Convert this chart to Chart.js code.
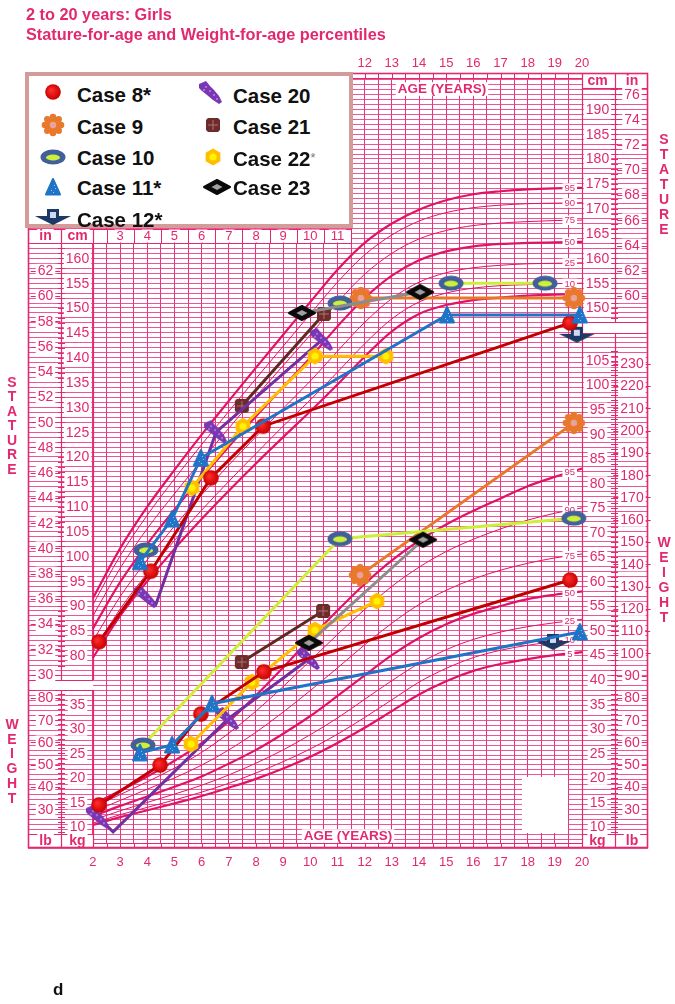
<!DOCTYPE html>
<html lang="en">
<head>
<meta charset="UTF-8">
<meta name="viewport" content="width=device-width, initial-scale=1.0">
<title>2 to 20 years: Girls - Stature-for-age and Weight-for-age percentiles</title>
<script src="https://cdn.jsdelivr.net/npm/chart.js"></script>
<style>
    body { margin: 0; background: #fff; font-family: Arial, "Liberation Sans", Helvetica, sans-serif; }
    .page { position: relative; width: 675px; height: 1004px; overflow: hidden; }
    #growthChart { position: absolute; left: 0; top: 0; }
    .title { position: absolute; left: 26px; color: #e2286f; font-weight: bold; font-size: 16.3px; line-height: 19px; white-space: nowrap; }
    .legend { position: absolute; left: 25px; top: 72px; width: 328px; height: 156px; box-sizing: border-box; border: 4px solid #d49b9b; background: #fff; }
    .legend .item { position: absolute; font-weight: bold; font-size: 20.5px; line-height: 20px; color: #111; white-space: nowrap; }
    .legend .item small { font-size: 13px; color: #777; font-weight: normal; vertical-align: 4px; }
    .legend canvas { position: absolute; }
    .tag { position: absolute; left: 53px; top: 980px; font-weight: bold; font-size: 17px; color: #111; }
</style>
</head>
<body>
<div class="page">
    <canvas id="growthChart" width="675" height="1004"></canvas>
    <div class="title" style="top:5px">2 to 20 years: Girls</div>
    <div class="title" style="top:25px">Stature-for-age and Weight-for-age percentiles</div>
    <div class="legend" id="legend"></div>
    <div class="tag">d</div>
</div>

<script>
    // percentile curves (CDC girls), one value per year of age
    const curveAges = [2, 3, 4, 5, 6, 7, 8, 9, 10, 11, 12, 13, 14, 15, 16, 17, 18, 19, 20];
    const statureP5  = [79.6, 88.0, 95.0, 101.5, 107.5, 113.2, 118.7, 124.0, 129.2, 134.6, 140.2, 145.3, 148.8, 150.6, 151.6, 152.1, 152.5, 152.7, 152.8];
    const statureP10 = [80.8, 89.4, 96.6, 103.2, 109.3, 115.1, 120.7, 126.2, 131.5, 137.1, 142.8, 147.8, 151.2, 153.0, 154.0, 154.5, 154.7, 154.9, 155.0];
    const statureP25 = [83.0, 91.9, 99.3, 106.1, 112.4, 118.4, 124.1, 129.8, 135.3, 141.3, 147.1, 151.9, 155.2, 157.1, 158.1, 158.6, 158.9, 159.0, 159.1];
    const statureP50 = [85.5, 94.8, 102.5, 109.4, 115.9, 122.1, 128.2, 134.1, 140.0, 146.3, 152.0, 156.5, 159.6, 161.4, 162.4, 162.9, 163.1, 163.2, 163.3];
    const statureP75 = [88.0, 97.6, 105.6, 112.6, 119.3, 125.8, 132.2, 138.4, 144.6, 151.1, 156.8, 161.0, 163.9, 165.6, 166.6, 167.1, 167.4, 167.6, 167.7];
    const statureP90 = [90.3, 100.1, 108.3, 115.6, 122.5, 129.2, 135.8, 142.3, 148.8, 155.2, 160.7, 164.7, 167.5, 169.2, 170.2, 170.7, 171.0, 171.1, 171.2];
    const statureP95 = [91.6, 101.6, 110.0, 117.4, 124.5, 131.3, 138.0, 144.6, 151.2, 157.7, 163.1, 167.0, 169.8, 171.7, 172.9, 173.5, 173.9, 174.1, 174.2];
    const weightP5  = [10.4, 12.0, 13.4, 14.8, 16.3, 18.0, 19.8, 21.9, 24.3, 27.1, 30.2, 33.6, 37.0, 39.7, 41.8, 43.2, 44.2, 45.0, 45.6];
    const weightP10 = [10.8, 12.5, 14.0, 15.5, 17.1, 18.9, 21.0, 23.3, 25.9, 28.9, 32.3, 35.9, 39.5, 42.3, 44.5, 46.0, 47.0, 47.8, 48.4];
    const weightP25 = [11.4, 13.3, 15.0, 16.7, 18.5, 20.6, 23.0, 25.7, 28.8, 32.2, 36.0, 39.8, 43.3, 46.1, 48.2, 49.7, 50.8, 51.6, 52.3];
    const weightP50 = [12.2, 14.3, 16.2, 18.2, 20.3, 22.9, 25.7, 29.0, 32.6, 36.7, 40.9, 45.0, 48.5, 51.3, 53.4, 55.0, 56.4, 57.3, 58.0];
    const weightP75 = [13.1, 15.4, 17.7, 20.0, 22.6, 25.7, 29.3, 33.4, 37.8, 42.4, 47.1, 51.5, 55.3, 58.2, 60.5, 62.3, 63.7, 64.8, 65.6];
    const weightP90 = [14.0, 16.6, 19.2, 22.0, 25.2, 29.1, 33.6, 38.6, 43.9, 49.2, 54.3, 59.0, 62.9, 66.1, 68.6, 70.7, 72.5, 73.9, 75.0];
    const weightP95 = [14.6, 17.4, 20.3, 23.5, 27.1, 31.5, 36.8, 42.5, 48.4, 54.1, 59.5, 64.3, 68.3, 71.6, 74.4, 76.9, 79.4, 81.3, 83.0];

    // measurements per case: [age in years, cm or kg]; null breaks the line
    const case8Stature  = [[2.22, 82.8], [4.13, 97.0], [6.34, 115.8], [8.26, 126.2], [19.56, 147.0]];
    const case8Weight   = [[2.22, 14.5], [4.47, 22.6], [5.97, 33.0], [8.29, 41.6], [19.56, 60.3]];
    const case9Stature  = [[11.86, 152.0], [19.70, 152.0]];
    const case9Weight   = [[11.83, 61.3], [19.70, 92.3]];
    const case10Stature = [[3.95, 101.3], [7.5, null], [11.09, 151.0], [13.1, null], [15.18, 155.0], [18.64, 155.0]];
    const case10Weight  = [[3.84, 26.7], [11.09, 68.7], [19.70, 72.9]];
    const case11Stature = [[3.73, 98.9], [4.91, 107.5], [5.97, 119.8], [15.03, 148.6], [19.92, 148.6]];
    const case11Weight  = [[3.73, 25.1], [4.91, 26.7], [6.38, 35.1], [19.92, 49.7]];
    const case12Stature = [[19.81, 144.6]];
    const case12Weight  = [[18.93, 47.7]];
    const case20Stature = [[3.95, 91.8], [4.32, 90.4], [6.53, 125.0], [10.43, 143.6]];
    const case20Weight  = [[2.18, 12.0], [2.74, 9.0], [6.97, 32.0], [9.95, 44.2]];
    const case21Stature = [[7.48, 130.3], [10.50, 148.8]];
    const case21Weight  = [[7.48, 43.6], [10.47, 54.0]];
    const case22Stature = [[5.64, 113.8], [7.52, 126.2], [10.17, 140.3], [12.78, 140.3]];
    const case22Weight  = [[5.61, 26.9], [7.85, 39.5], [10.17, 50.1], [12.45, 56.0]];
    const case23Stature = [[9.69, 149.0], [14.04, 153.2]];
    const case23Weight  = [[9.95, 47.5], [14.15, 68.5]];

    // tick labels
    const bottomAgeLabels = [2, 3, 4, 5, 6, 7, 8, 9, 10, 11, 12, 13, 14, 15, 16, 17, 18, 19, 20];
    const topAgeLabels = [12, 13, 14, 15, 16, 17, 18, 19, 20];
    const headerAgeLabels = [3, 4, 5, 6, 7, 8, 9, 10, 11];
    const leftInchLabels = [30, 32, 34, 36, 38, 40, 42, 44, 46, 48, 50, 52, 54, 56, 58, 60, 62];
    const leftCmLabels = [80, 85, 90, 95, 100, 105, 110, 115, 120, 125, 130, 135, 140, 145, 150, 155, 160];
    const leftLbLabels = [30, 40, 50, 60, 70, 80];
    const leftKgLabels = [10, 15, 20, 25, 30, 35];
    const rightCmLabels = [150, 155, 160, 165, 170, 175, 180, 185, 190];
    const rightInchLabels = [60, 62, 64, 66, 68, 70, 72, 74, 76];
    const rightKgLabels = [10, 15, 20, 25, 30, 35, 40, 45, 50, 55, 60, 65, 70, 75, 80, 85, 90, 95, 100, 105];
    const rightLbLabels = [30, 40, 50, 60, 70, 80, 90, 100, 110, 120, 130, 140, 150, 160, 170, 180, 190, 200, 210, 220, 230];
    const percentileNames = ['95', '90', '75', '50', '25', '10', '5'];

    const TEXT_PINK = '#e2286f';
    const CURVE_PINK = '#de1468';
    const FONT = 'Arial, "Liberation Sans", sans-serif';

    // marker pictures
    function makeIcon(w, h, draw) {
        const c = document.createElement('canvas');
        c.width = w; c.height = h;
        const g = c.getContext('2d');
        g.translate(w / 2, h / 2);
        draw(g);
        return c;
    }
    function poly(g, pts) {
        g.beginPath();
        pts.forEach((p, i) => i ? g.lineTo(p[0], p[1]) : g.moveTo(p[0], p[1]));
        g.closePath();
    }
    const icons = {
        case8: () => makeIcon(18, 18, g => {
            const gr = g.createRadialGradient(-2, -2, 1, 0, 0, 8);
            gr.addColorStop(0, '#ff2a2a'); gr.addColorStop(1, '#c40000');
            g.fillStyle = gr; g.beginPath(); g.arc(0, 0, 7.8, 0, Math.PI * 2); g.fill();
        }),
        case9: () => makeIcon(26, 26, g => {
            g.fillStyle = '#e8792c';
            for (let i = 0; i < 8; i++) {
                const a = i * Math.PI / 4;
                g.beginPath(); g.arc(Math.cos(a) * 8, Math.sin(a) * 8, 3.3, 0, Math.PI * 2); g.fill();
            }
            g.beginPath(); g.arc(0, 0, 8, 0, Math.PI * 2); g.fill();
            g.fillStyle = '#eba19c'; g.beginPath(); g.arc(0, 0, 3.2, 0, Math.PI * 2); g.fill();
        }),
        case10: () => makeIcon(28, 18, g => {
            g.fillStyle = '#41609a'; g.beginPath(); g.ellipse(0, 0, 12.5, 7.5, 0, 0, Math.PI * 2); g.fill();
            g.fillStyle = '#cdf03a'; g.beginPath(); g.ellipse(0, 0.5, 7, 3, 0, 0, Math.PI * 2); g.fill();
        }),
        case11: () => makeIcon(18, 20, g => {
            g.fillStyle = '#1f74c6'; g.strokeStyle = '#1f74c6'; g.lineWidth = 2; g.lineJoin = 'round';
            poly(g, [[0, -8], [7, 7.5], [-7, 7.5]]); g.fill(); g.stroke();
            g.fillStyle = '#9cc8f0';
            [[-2, 3], [2, 1], [0, 5], [1, -2]].forEach(p => g.fillRect(p[0], p[1], 1, 1));
        }),
        case12: () => makeIcon(38, 18, g => {
            g.fillStyle = '#1d3a66';
            poly(g, [[-18, -1], [-6, -1], [-6, -8], [6, -8], [6, -1], [18, -1], [0, 8]]); g.fill();
            g.fillStyle = '#cfdaf0'; g.fillRect(-3, -5, 6, 6);
        }),
        case20: () => makeIcon(28, 28, g => {
            g.fillStyle = '#7b36b4';
            poly(g, [[-12, -9], [-5, -12], [-1, -7], [3, -3], [8, 3], [11, 9], [8, 11], [2, 7], [-4, 2], [-9, -2], [-12, -5]]);
            g.fill();
            g.fillStyle = '#a872d6';
            [[-6, -7], [-2, -3], [2, 1], [5, 5], [-8, -4]].forEach(p => g.fillRect(p[0], p[1], 2, 2));
        }),
        case21: () => makeIcon(18, 18, g => {
            g.fillStyle = '#6d2b2b';
            poly(g, [[-7, -5], [-5, -7], [5, -7], [7, -5], [7, 5], [5, 7], [-5, 7], [-7, 5]]); g.fill();
            g.strokeStyle = '#b07474'; g.lineWidth = 1;
            g.beginPath(); g.moveTo(0, -5); g.lineTo(0, 5); g.moveTo(-5, 0); g.lineTo(5, 0); g.stroke();
        }),
        case22: () => makeIcon(20, 20, g => {
            g.fillStyle = '#ffbf00';
            const pts = [];
            for (let i = 0; i < 6; i++) { const a = Math.PI / 6 + i * Math.PI / 3; pts.push([Math.cos(a) * 8.5, Math.sin(a) * 8.5]); }
            poly(g, pts); g.fill();
            g.fillStyle = '#fff200'; g.beginPath(); g.arc(0, 0, 3.6, 0, Math.PI * 2); g.fill();
        }),
        case23: () => makeIcon(30, 18, g => {
            g.fillStyle = '#0a0a0a'; g.strokeStyle = '#0a0a0a'; g.lineWidth = 2; g.lineJoin = 'round';
            poly(g, [[-13, 0], [0, -7], [13, 0], [0, 7]]); g.fill(); g.stroke();
            g.fillStyle = '#a0a0a0';
            poly(g, [[-5.5, 0], [0, -3], [5.5, 0], [0, 3]]); g.fill();
        })
    };

    // legend
    const legendKeys = ['case8', 'case9', 'case10', 'case11', 'case12', 'case20', 'case21', 'case22', 'case23'];
    const legendLabels = ['Case 8*', 'Case 9', 'Case 10', 'Case 11*', 'Case 12*', 'Case 20', 'Case 21', 'Case 22<small>*</small>', 'Case 23'];
    const legendIconPos = [[24, 16], [24, 49], [24, 81], [24, 111], [24, 141], [182, 17], [184, 49], [184, 81], [188, 111]];
    const legendTextPos = [[48, 19], [48, 51], [48, 82], [48, 112], [48, 144], [204, 20], [204, 51], [204, 82], [204, 112]];
    const legendEl = document.getElementById('legend');
    legendKeys.forEach((key, i) => {
        const ic = icons[key]();
        ic.style.left = (legendIconPos[i][0] - ic.width / 2) + 'px';
        ic.style.top = (legendIconPos[i][1] - ic.height / 2) + 'px';
        legendEl.appendChild(ic);
        const t = document.createElement('div');
        t.className = 'item';
        t.innerHTML = legendLabels[i];
        t.style.left = legendTextPos[i][0] + 'px';
        t.style.top = (legendTextPos[i][1] - 10) + 'px';
        legendEl.appendChild(t);
    });

    // datasets
    function curve(values, axis, thick) {
        return {
            data: curveAges.map((a, i) => ({ x: a, y: values[i] })),
            yAxisID: axis,
            borderColor: CURVE_PINK,
            borderWidth: thick ? 2.2 : 1,
            pointRadius: 0,
            cubicInterpolationMode: 'monotone',
            order: 10
        };
    }
    function series(points, axis, color, key, extra) {
        return Object.assign({
            data: points.map(p => ({ x: p[0], y: p[1] })),
            yAxisID: axis,
            borderColor: color,
            backgroundColor: color,
            borderWidth: 3,
            pointStyle: icons[key](),
            pointRadius: 7,
            spanGaps: false,
            tension: 0,
            order: 1
        }, extra || {});
    }
    const tailHidden = { pointRadius: c => c.dataIndex === 1 ? 0 : 7 };

    const datasets = [
        curve(statureP95, 'yS', true), curve(statureP90, 'yS', false), curve(statureP75, 'yS', false),
        curve(statureP50, 'yS', true), curve(statureP25, 'yS', false), curve(statureP10, 'yS', false),
        curve(statureP5, 'yS', true),
        curve(weightP95, 'yW', true), curve(weightP90, 'yW', false), curve(weightP75, 'yW', false),
        curve(weightP50, 'yW', true), curve(weightP25, 'yW', false), curve(weightP10, 'yW', false),
        curve(weightP5, 'yW', true),
        series(case23Stature, 'yS', '#8c8c8c', 'case23'),
        series(case23Weight, 'yW', '#8c8c8c', 'case23'),
        series(case11Stature, 'yS', '#1f74c6', 'case11'),
        series(case11Weight, 'yW', '#1f74c6', 'case11'),
        series(case8Stature, 'yS', '#c00000', 'case8'),
        series(case8Weight, 'yW', '#c00000', 'case8'),
        series(case10Stature, 'yS', '#cdee3a', 'case10'),
        series(case10Weight, 'yW', '#cdee3a', 'case10'),
        series(case9Stature, 'yS', '#e8772a', 'case9'),
        series(case9Weight, 'yW', '#e8772a', 'case9'),
        series(case22Stature, 'yS', '#ffc000', 'case22'),
        series(case22Weight, 'yW', '#ffc000', 'case22'),
        series(case20Stature, 'yS', '#7030a0', 'case20', tailHidden),
        series(case20Weight, 'yW', '#7030a0', 'case20', tailHidden),
        series(case21Stature, 'yS', '#5c2a22', 'case21'),
        series(case21Weight, 'yW', '#5c2a22', 'case21'),
        series(case12Stature, 'yS', '#1d3a66', 'case12', { showLine: false }),
        series(case12Weight, 'yW', '#1d3a66', 'case12', { showLine: false })
    ];

    function valueAt(arr, age) {
        const i = Math.min(Math.floor(age) - 2, arr.length - 2);
        const t = age - (i + 2);
        return arr[i] + (arr[i + 1] - arr[i]) * t;
    }

    function labelBox(ctx, text, x, y, size, bold, dashes) {
        ctx.font = (bold ? 'bold ' : '') + size + 'px ' + FONT;
        const w = ctx.measureText(text).width;
        ctx.fillStyle = '#fff';
        ctx.fillRect(x - w / 2 - 2, y - size * 0.5, w + 4, size);
        ctx.fillStyle = TEXT_PINK;
        ctx.textAlign = 'center';
        ctx.textBaseline = 'middle';
        ctx.fillText(text, x, y + 0.5);
        if (dashes) {
            ctx.strokeStyle = TEXT_PINK; ctx.lineWidth = 1.2;
            ctx.beginPath();
            ctx.moveTo(x - w / 2 - 7, Math.round(y) + 0.5); ctx.lineTo(x - w / 2 - 2, Math.round(y) + 0.5);
            ctx.moveTo(x + w / 2 + 2, Math.round(y) + 0.5); ctx.lineTo(x + w / 2 + 7, Math.round(y) + 0.5);
            ctx.stroke();
        }
    }

    function vLine(ctx, x, y1, y2, w) {
        ctx.lineWidth = w || 1.2;
        ctx.beginPath(); ctx.moveTo(Math.round(x) + 0.5, y1); ctx.lineTo(Math.round(x) + 0.5, y2); ctx.stroke();
    }
    function hLine(ctx, x1, x2, y, w) {
        ctx.lineWidth = w || 1.2;
        ctx.beginPath(); ctx.moveTo(x1, Math.round(y) + 0.5); ctx.lineTo(x2, Math.round(y) + 0.5); ctx.stroke();
    }

    const chartDecor = {
        id: 'chartDecor',
        beforeDatasetsDraw(chart) {
            const ctx = chart.ctx;
            const xs = chart.scales.x, yS = chart.scales.yS, yW = chart.scales.yW;
            const { left: L, right: R, top: T, bottom: B } = chart.chartArea;
            const x2 = xs.getPixelForValue(2), x20 = xs.getPixelForValue(20);
            const sepL = 61, sepR = 615;
            const colInL = (L + sepL) / 2 + 1, colCmL = (sepL + x2) / 2 + 0.5;
            const colCmR = (x20 + sepR) / 2 - 1, colInR = (sepR + R) / 2 + 0.5;
            const statBottomL = 680, wtTopL = 690, statBottomR = 322, wtTopR = 333;
            ctx.save();

            // gaps between stature and weight blocks in the side columns
            ctx.fillStyle = '#fff';
            ctx.fillRect(L, statBottomL + 1, x2 - L, wtTopL - statBottomL - 1);
            ctx.fillRect(x20 + 1, statBottomR + 1, R - x20, wtTopR - statBottomR - 1);
            // header / footer bands
            ctx.fillRect(L, 229, 352 - L, 14);
            ctx.fillRect(x20 + 1, T, R - x20, 15);
            ctx.fillRect(352, T, x20 - 352, 5);
            ctx.fillRect(L, 834, x2 - L, B - 834);
            ctx.fillRect(x20 + 1, 834, R - x20, B - 834);
            ctx.fillRect(x2, B - 5, x20 - x2, 5);
            ctx.fillRect(522, 777, 46, 56);

            ctx.strokeStyle = TEXT_PINK;
            // small age ticks on the top and bottom rows
            for (let a = 2; a <= 20; a += 0.5) {
                const px = xs.getPixelForValue(a);
                if (px >= 352) vLine(ctx, px, T, T + 5, 1);
                vLine(ctx, px, B - 5, B, 1);
                if (px <= 352) vLine(ctx, px, 229, 243, 1);
            }
            hLine(ctx, L, 352, 229); hLine(ctx, L, 352, 243);
            hLine(ctx, 352, x20, T + 5, 1);
            hLine(ctx, x2, x20, B - 5, 1);
            hLine(ctx, L, x2, statBottomL); hLine(ctx, L, x2, wtTopL);
            hLine(ctx, x20, R, statBottomR); hLine(ctx, x20, R, wtTopR);
            hLine(ctx, L, x2, 834); hLine(ctx, x20, R, 834);
            hLine(ctx, x20, R, T + 15);

            // column separators
            vLine(ctx, sepL, 229, statBottomL); vLine(ctx, sepL, wtTopL, B);
            vLine(ctx, x2, 229, statBottomL); vLine(ctx, x2, wtTopL, B);
            vLine(ctx, sepR, T, statBottomR); vLine(ctx, sepR, wtTopR, B);
            vLine(ctx, x20, T, B);

            // minor ticks on the column separators
            for (let cm = 78; cm <= 162; cm++) { const y = yS.getPixelForValue(cm); if (y > 245 && y < statBottomL) hLine(ctx, sepL - 3, sepL + 4, y, 1); }
            for (let cm = 146; cm <= 196; cm++) { const y = yS.getPixelForValue(cm); if (y > T + 16 && y < statBottomR) hLine(ctx, sepR - 4, sepR + 3, y, 1); }
            for (let kg = 8; kg <= 38; kg++) { const y = yW.getPixelForValue(kg); if (y > wtTopL && y < 834) hLine(ctx, sepL - 3, sepL + 4, y, 1); }
            for (let kg = 8; kg <= 107; kg++) { const y = yW.getPixelForValue(kg); if (y > wtTopR && y < 834) hLine(ctx, sepR - 4, sepR + 3, y, 1); }

            // column labels
            leftInchLabels.forEach(v => labelBox(ctx, String(v), colInL, yS.getPixelForValue(v * 2.54), 14, false, true));
            leftCmLabels.forEach(v => labelBox(ctx, String(v), colCmL, yS.getPixelForValue(v), 14, false, false));
            leftLbLabels.forEach(v => labelBox(ctx, String(v), colInL, yW.getPixelForValue(v * 0.4536), 14, false, true));
            leftKgLabels.forEach(v => labelBox(ctx, String(v), colCmL, yW.getPixelForValue(v), 14, false, false));
            rightCmLabels.forEach(v => labelBox(ctx, String(v), colCmR, yS.getPixelForValue(v), 14, false, false));
            rightInchLabels.forEach(v => labelBox(ctx, String(v), colInR, yS.getPixelForValue(v * 2.54), 14, false, true));
            rightKgLabels.forEach(v => labelBox(ctx, String(v), colCmR, yW.getPixelForValue(v), 14, false, false));
            rightLbLabels.forEach(v => labelBox(ctx, String(v), colInR, yW.getPixelForValue(v * 0.4536), 14, false, true));

            // column headers
            labelBox(ctx, 'in', colInL, 236, 14, true, false);
            labelBox(ctx, 'cm', colCmL, 236, 14, true, false);
            headerAgeLabels.forEach(a => labelBox(ctx, String(a), xs.getPixelForValue(a), 236, 13, false, false));
            labelBox(ctx, 'cm', colCmR, 81, 14, true, false);
            labelBox(ctx, 'in', colInR, 81, 14, true, false);
            labelBox(ctx, 'lb', colInL, 841, 14, true, false);
            labelBox(ctx, 'kg', colCmL, 841, 14, true, false);
            labelBox(ctx, 'kg', colCmR, 841, 14, true, false);
            labelBox(ctx, 'lb', colInR, 841, 14, true, false);
            labelBox(ctx, 'AGE (YEARS)', 442, 89, 13.5, true, false);
            labelBox(ctx, 'AGE (YEARS)', 348, 836, 13.5, true, false);

            // frame
            ctx.strokeStyle = TEXT_PINK;
            ctx.lineWidth = 1.6;
            ctx.strokeRect(L + 0.5, T + 0.5, R - L - 1, B - T - 1);
            ctx.restore();
        },
        afterDatasetDraw(chart, args) {
            // percentile names go on top of the curves, under the case markers
            if (args.index !== 0) return;
            const ctx = chart.ctx;
            const xs = chart.scales.x, yS = chart.scales.yS, yW = chart.scales.yW;
            const labelAge = 19.55;
            const px = xs.getPixelForValue(labelAge);
            const sCurves = [statureP95, statureP90, statureP75, statureP50, statureP25, statureP10, statureP5];
            const wCurves = [weightP95, weightP90, weightP75, weightP50, weightP25, weightP10, weightP5];
            ctx.save();
            sCurves.forEach((c, i) => labelBox(ctx, percentileNames[i], px, yS.getPixelForValue(valueAt(c, labelAge)), 9.5, false, false));
            wCurves.forEach((c, i) => labelBox(ctx, percentileNames[i], px, yW.getPixelForValue(valueAt(c, labelAge)), 9.5, false, false));
            ctx.restore();
        },
        afterDraw(chart) {
            const ctx = chart.ctx;
            const xs = chart.scales.x;
            ctx.save();
            ctx.fillStyle = TEXT_PINK;
            ctx.textAlign = 'center';
            ctx.textBaseline = 'middle';
            ctx.font = '13px ' + FONT;
            bottomAgeLabels.forEach(a => ctx.fillText(String(a), xs.getPixelForValue(a), 862));
            topAgeLabels.forEach(a => ctx.fillText(String(a), xs.getPixelForValue(a), 63));
            ctx.font = 'bold 14px ' + FONT;
            'STATURE'.split('').forEach((ch, i) => ctx.fillText(ch, 12, 383 + i * 14.5));
            'WEIGHT'.split('').forEach((ch, i) => ctx.fillText(ch, 12, 725 + i * 14.8));
            'STATURE'.split('').forEach((ch, i) => ctx.fillText(ch, 664, 140 + i * 15));
            'WEIGHT'.split('').forEach((ch, i) => ctx.fillText(ch, 664, 543 + i * 15));
            ctx.restore();
        }
    };

    new Chart(document.getElementById('growthChart'), {
        type: 'line',
        data: { datasets: datasets },
        options: {
            responsive: false,
            animation: false,
            layout: { padding: { left: 28, top: 73, right: 27, bottom: 156 } },
            plugins: { legend: { display: false }, tooltip: { enabled: false } },
            scales: {
                x: {
                    type: 'linear', min: -0.392, max: 22.429,
                    ticks: { display: false, stepSize: 0.5 },
                    grid: {
                        drawTicks: false, lineWidth: 1,
                        color: c => (c.tick && c.tick.value >= 2 && c.tick.value <= 20) ? 'rgba(226, 30, 112, 0.9)' : 'rgba(0,0,0,0)'
                    },
                    border: { display: false }
                },
                yS: {
                    type: 'linear', position: 'left', min: 41.28, max: 197.31,
                    ticks: { display: false, stepSize: 1 },
                    grid: { drawTicks: false, lineWidth: 1, color: 'rgba(234, 56, 128, 0.85)' },
                    border: { display: false }
                },
                yW: { type: 'linear', position: 'right', display: false, min: 5.72, max: 163.56 }
            }
        },
        plugins: [chartDecor]
    });
</script>
</body>
</html>
